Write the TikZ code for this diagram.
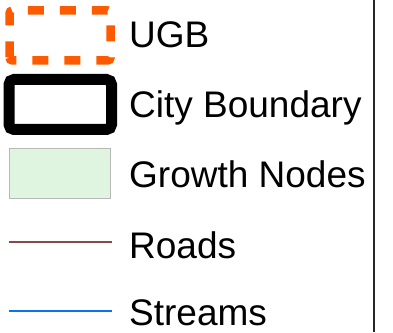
\documentclass[tikz,border=0pt]{standalone}
\usepackage{fontspec}
\setmainfont{Liberation Sans}
\definecolor{ugbOrange}{HTML}{FF5A00}
\definecolor{nodeFill}{HTML}{DFF5E0}
\definecolor{nodeEdge}{HTML}{B8B8B8}
\definecolor{roadCol}{HTML}{8A4646}
\definecolor{streamCol}{HTML}{0A74F0}
\begin{document}
\begin{tikzpicture}[x=1pt,y=1pt,
  lbl/.style={anchor=base west,inner sep=0pt,font=\fontsize{37}{42}\selectfont},
  swatchline/.style={line width=2.2pt}]
\useasboundingbox (0,0) rectangle (393,332);
% legend symbols
\draw[ugbOrange,line width=8.5pt,dash pattern=on 16pt off 16pt,rounded corners=3pt]
  (9.5,271.5) -- (9.5,321.5) -- (110.5,321.5) -- (110.5,271.5) -- cycle;
\draw[black,line width=11pt,rounded corners=5pt] (9,202.5) rectangle (111.5,252.5);
\draw[nodeEdge,fill=nodeFill,line width=1pt] (9.5,133.5) rectangle (110.5,183.5);
\coordinate (r1) at (8.5,90); \coordinate (r2) at (112,90);
\draw[roadCol,swatchline] (r1) -- (r2);
\coordinate (s1) at (8.5,21); \coordinate (s2) at (112,21);
\draw[streamCol,swatchline] (s1) -- (s2);
% labels
\node[lbl] (tugb) at (129,284) {UGB};
\node[lbl] (tcity) at (129,214) {City Boundary};
\node[lbl] (tgrowth) at (129,144) {Growth Nodes};
\node[lbl] (troads) at (129,74) {Roads};
\node[lbl] (tstreams) at (129,7) {Streams};
% frame edge
\coordinate (f1) at (374,0); \coordinate (f2) at (374,332);
\draw[black!85,line width=2pt] (f1) -- (f2);
\end{tikzpicture}
\end{document}
